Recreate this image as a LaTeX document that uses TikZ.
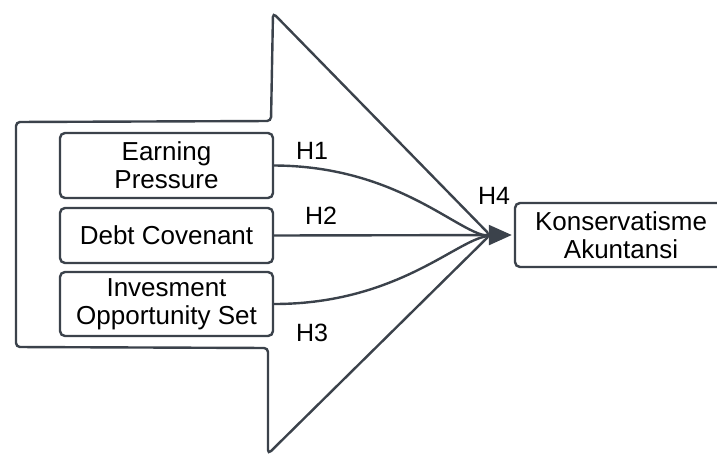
\documentclass[tikz,border=0pt]{standalone}
\usepackage{fontspec}
\setmainfont{Liberation Sans}
\usetikzlibrary{arrows.meta}
\definecolor{ln}{HTML}{3B424B}
\begin{document}
\begin{tikzpicture}[x=1pt,y=-1pt,
  box/.style={draw=ln, line width=2.4pt, rounded corners=5pt, align=center, inner sep=0pt,
              font=\fontsize{26}{28}\selectfont, text=black},
  lbl/.style={font=\fontsize{25}{28}\selectfont, inner sep=0pt, text=black},
  conn/.style={draw=ln, line width=2.4pt},
  bigarrow/.style={draw=ln, line width=2.4pt, rounded corners=4pt}]
\useasboundingbox (0,0) rectangle (717,455);
% big arrow outline
\draw[bigarrow] (273,13) -- (490,235) -- (268,454) -- (268,348) -- (16,347) -- (16,122) -- (271,121) -- cycle;
% boxes
\node[box, minimum width=213pt, minimum height=65pt] (b1) at (166.5,165.5) {Earning\\Pressure};
\node[box, minimum width=213pt, minimum height=55pt] (b2) at (166.5,235.5) {Debt Covenant};
\node[box, minimum width=213pt, minimum height=64pt] (b3) at (166.5,304) {Invesment\\Opportunity Set};
\node[box, minimum width=212pt, minimum height=64pt] (k) at (621,235) {Konservatisme\\Akuntansi};
\coordinate (m) at (490,236);
% connectors
\draw[conn] (b1.east) .. controls (400,166) and (460,236) .. (m);
\draw[conn] (b3.east) .. controls (400,304) and (460,236) .. (m);
\draw[conn, -{Triangle[length=23pt,width=20pt]}, shorten >=2pt] (b2.east) -- (k.west);
% labels
\node[lbl] (h1) at (312,151) {H1};
\node[lbl] (h2) at (321,215.5) {H2};
\node[lbl] (h3) at (312,333) {H3};
\node[lbl] (h4) at (494,196) {H4};
\end{tikzpicture}
\end{document}
